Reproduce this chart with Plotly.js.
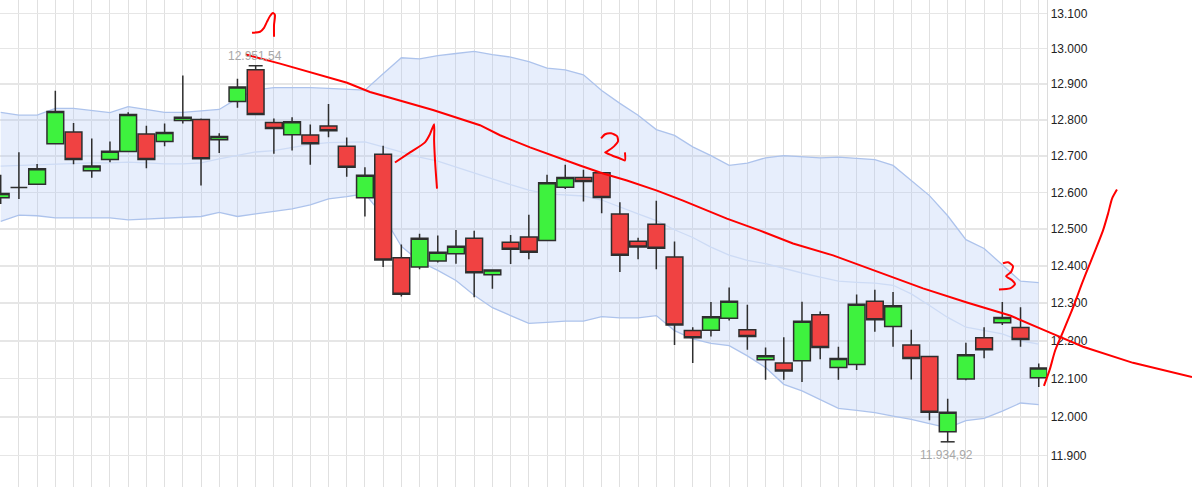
<!DOCTYPE html>
<html>
<head>
<meta charset="utf-8">
<script src="https://cdn.plot.ly/plotly-3.0.1.min.js"></script>
<style>
  html, body { margin: 0; padding: 0; background: #ffffff; }
  #chart { width: 1192px; height: 487px; }
</style>
</head>
<body>
<div id="chart"></div>
<script>
// ---- candle positions (one per trading session) ----
const sessions = [0,1,2,3,4,5,6,7,8,9,10,11,12,13,14,15,16,17,18,19,20,21,22,23,24,25,26,27,28,29,
                  30,31,32,33,34,35,36,37,38,39,40,41,42,43,44,45,46,47,48,49,50,51,52,53,54,55,56,57];

// ---- OHLC values ----
const openVals  = [12585,12613,12622,12734,12766,12659,12690,12712,12761,12740,
                   12798,12801,12745,12851,12940,12793,12759,12758,12783,12727,
                   12585,12705,12422,12397,12413,12433,12475,12376,12464,12478,
                   12469,12614,12641,12654,12541,12467,12513,12424,12227,12228,
                   12260,12229,12150,12141,12147,12269,12129,12137,12305,12238,
                   12189,12158,11961,12099,12208,12248,12235,12102];
const highVals  = [12648,12710,12678,12881,12791,12748,12740,12821,12784,12790,
                   12924,12804,12763,12915,12951.54,12804,12807,12787,12844,12751,
                   12669,12728,12458,12487,12482,12497,12495,12390,12484,12539,
                   12648,12676,12662,12655,12573,12476,12577,12466,12236,12303,
                   12342,12296,12182,12209,12304,12278,12184,12323,12336,12330,
                   12229,12159,12047,12195,12236,12303,12289,12140];
const lowVals   = [12568,12582,12620,12733,12677,12640,12683,12710,12666,12727,
                   12790,12619,12708,12834,12813,12706,12715,12676,12752,12643,
                   12534,12397,12318,12391,12409,12406,12316,12339,12405,12418,
                   12467,12609,12575,12543,12384,12418,12391,12189,12141,12211,
                   12254,12176,12097,12097,12091,12151,12097,12123,12224,12184,
                   12098,11991,11934.92,12096,12154,12242,12184,12078];
const closeVals = [12597,12613,12665,12823,12690,12672,12713,12815,12690,12765,
                   12807,12692,12754,12892,12815,12776,12795,12734,12770,12669,
                   12647,12416,12324,12475,12437,12453,12382,12389,12445,12437,
                   12626,12641,12630,12586,12429,12451,12448,12242,12208,12264,
                   12305,12211,12160,12120,12252,12182,12153,12297,12256,12293,
                   12153,12012,12012,12163,12176,12262,12203,12128];

// ---- Bollinger bands ----
const bandUpper  = [12821,12813,12813,12832,12832,12827,12820,12837,12829,12821,
                    12821,12825,12829,12860,12884,12890,12891,12890,12888,12886,
                    12883,12929,12974,12971,12980,12986,12992,12983,12976,12963,
                    12945,12940,12926,12882,12846,12813,12773,12757,12725,12701,
                    12674,12680,12695,12701,12699,12695,12697,12693,12690,12674,
                    12632,12591,12536,12471,12447,12402,12359,12355];
const bandMiddle = [12672,12674,12677,12678,12680,12681,12681,12683,12681,12678,
                    12678,12681,12692,12701,12711,12715,12724,12732,12737,12739,
                    12739,12725,12711,12697,12686,12669,12653,12637,12621,12606,
                    12596,12594,12590,12579,12559,12541,12523,12498,12477,12451,
                    12429,12415,12406,12393,12381,12370,12359,12356,12354,12348,
                    12325,12294,12262,12236,12227,12218,12200,12191];
const bandLower  = [12521,12538,12536,12530,12530,12530,12530,12525,12527,12530,
                    12530,12534,12545,12534,12541,12548,12555,12566,12582,12588,
                    12596,12536,12453,12412,12388,12361,12321,12288,12267,12246,
                    12249,12252,12252,12264,12261,12261,12267,12227,12205,12193,
                    12187,12160,12129,12085,12068,12046,12022,12017,12011,12002,
                    11993,11982,11971,11990,11996,12015,12036,12032];

// ---- labelled extremes ----
const extremeX = [14, 52];
const extremeY = [12951.54, 11934.92];
const extremeText = ['12.951,54', '11.934,92'];

// ---- price axis ticks ----
const tickValues = [11900,12000,12100,12200,12300,12400,12500,12600,12700,12800,12900,13000,13100];
const tickLabels = ['11.900','12.000','12.100','12.200','12.300','12.400','12.500','12.600','12.700','12.800','12.900','13.000','13.100'];

// ---- hand-drawn red marks (session position, price) ----
const trendX = [13.47,15.34,19.02,20.28,23.74,26.32,27.42,29.07,31.81,33.08,34.39,36.04,37.47,39.88,41.70,43.51,45.71,47.19,50.65,53.06,55.43,57.62,59.44,62.18,65.42];
const trendY = [12983,12957.5,12903.7,12878,12827.4,12785.2,12757.3,12723.7,12673.8,12651.7,12632.3,12604.7,12577.3,12528.1,12495.5,12460.7,12428.6,12401.9,12339.7,12301.9,12267,12221.4,12184.1,12141.6,12104.5];
const mark1aX = [13.80,14.24,14.46,14.62,14.79,14.95,15.06,15.01,15.01];
const mark1aY = [13044.8,13047.6,13058.8,13075.6,13092.4,13100.8,13095.2,13067.2,13033.6];
const mark1bX = [21.65,22.48,23.30,23.57,23.80,23.80,23.85,23.96];
const mark1bY = [12682,12709.8,12737.7,12760.1,12787.9,12743.3,12687.6,12610.2];
const mark2X  = [32.97,33.19,33.52,33.85,33.90,33.68,33.30,33.19,33.57,34.01,34.28,34.28];
const mark2Y  = [12748.9,12760.1,12762.8,12754.5,12740.5,12726.5,12712.6,12709.8,12701.4,12693.1,12687.6,12709.8];
const mark3X  = [55.04,55.32,55.59,55.48,55.21,55.54,55.70,55.43,54.82];
const mark3Y  = [12407.2,12409.9,12399.2,12383.2,12372.4,12361.6,12350.8,12339.7,12337];
const riseX   = [57.29,57.62,57.90,58.34,58.89,59.38,59.82,60.15,60.53,60.81,61.03,61.30];
const riseY   = [12080.8,12125.7,12173.5,12224.1,12288.6,12353.2,12407.2,12447.3,12495.5,12541.8,12582.8,12607.5];

// ---- geometry ----
const W = 1192, H = 487;
const plotRightPx = 1047.3;
const yRange = [4.072554, 4.118527];
const xRange = [-0.0384, 57.47];
const xRangeFull = [-0.0384, 65.42];
const logPerPx = (yRange[1] - yRange[0]) / H;

const bandLine = '#adc3ec';
const darkLine = '#2e2e2e';

const traces = [
  { type: 'scatter', mode: 'lines', x: sessions, y: bandLower,
    line: { color: bandLine, width: 1.3 }, hoverinfo: 'skip', showlegend: false },
  { type: 'scatter', mode: 'lines', x: sessions, y: bandUpper, fill: 'tonexty',
    fillcolor: 'rgba(176,200,245,0.3)',
    line: { color: bandLine, width: 1.3 }, hoverinfo: 'skip', showlegend: false },
  { type: 'scatter', mode: 'lines', x: sessions, y: bandMiddle,
    line: { color: '#cddbf5', width: 1.3 }, hoverinfo: 'skip', showlegend: false },
  { type: 'candlestick', x: sessions, open: openVals, high: highVals, low: lowVals, close: closeVals,
    xaxis: 'x3', yaxis: 'y3',
    increasing: { line: { color: darkLine, width: 1.5 }, fillcolor: '#3ef23e' },
    decreasing: { line: { color: darkLine, width: 1.5 }, fillcolor: '#f04242' },
    whiskerwidth: 0, hoverinfo: 'skip', showlegend: false },
  { type: 'scatter', mode: 'markers', x: extremeX, y: extremeY, xaxis: 'x3', yaxis: 'y3',
    marker: { symbol: 'line-ew', size: 10, line: { color: darkLine, width: 1.5 } },
    hoverinfo: 'skip', showlegend: false }
];

[[trendX, trendY, 'linear'], [mark1aX, mark1aY, 'spline'], [mark1bX, mark1bY, 'spline'],
 [mark2X, mark2Y, 'spline'], [mark3X, mark3Y, 'spline'], [riseX, riseY, 'spline']].forEach(function (s) {
  traces.push({ type: 'scatter', mode: 'lines', x: s[0], y: s[1], xaxis: 'x2', yaxis: 'y2',
    line: { color: '#ff0000', width: 2, shape: s[2], smoothing: 0.6 },
    hoverinfo: 'skip', showlegend: false });
});

// white plates behind the extreme labels (above grid, below data)
const shapes = extremeX.map(function (xv, k) {
  const base = Math.log10(extremeY[k]);
  const lo = k === 0 ? base + 2 * logPerPx : base - 18 * logPerPx;
  const hi = k === 0 ? base + 16 * logPerPx : base - 4 * logPerPx;
  return { type: 'rect', xref: 'x', yref: 'y', layer: 'below',
    x0: xv - 1.55, x1: xv + 1.45, y0: lo, y1: hi,
    fillcolor: '#ffffff', line: { width: 0 } };
});

const annotations = extremeX.map(function (xv, k) {
  return {
    x: xv, y: Math.log10(extremeY[k]), xref: 'x', yref: 'y',
    text: extremeText[k], showarrow: false,
    yanchor: k === 0 ? 'bottom' : 'top', yshift: k === 0 ? 2 : -5, xshift: -1,
    font: { family: 'Liberation Sans, Arial, sans-serif', size: 12, color: '#a8a8a8' },
    borderpad: 0
  };
});

const layout = {
  width: W, height: H,
  margin: { l: 0, r: 0, t: 0, b: 0, pad: 0 },
  paper_bgcolor: '#ffffff', plot_bgcolor: 'rgba(0,0,0,0)',
  font: { family: 'Liberation Sans, Arial, sans-serif', size: 12, color: '#222222' },
  showlegend: false,
  boxgap: 0.08, boxgroupgap: 0,
  xaxis: {
    domain: [0, plotRightPx / W], range: xRange, anchor: 'y',
    tickmode: 'linear', tick0: 0, dtick: 1,
    showticklabels: false, ticks: '',
    showgrid: true, gridcolor: '#e0e0e0', gridwidth: 1,
    zeroline: false, showline: false,
    rangeslider: { visible: false }, fixedrange: true
  },
  yaxis: {
    domain: [0, 1], type: 'log', range: yRange, side: 'right', anchor: 'x',
    tickmode: 'array', tickvals: tickValues, ticktext: tickLabels,
    ticks: '', ticklabelstandoff: 0,
    tickfont: { family: 'Liberation Sans, Arial, sans-serif', size: 12, color: '#222222' },
    showgrid: true, gridcolor: '#e6e6e6', gridwidth: 1.5,
    showline: true, linecolor: '#dcdcdc', linewidth: 1,
    zeroline: false, fixedrange: true
  },
  xaxis3: { overlaying: 'x', range: xRange, anchor: 'y3', visible: false,
    rangeslider: { visible: false }, fixedrange: true },
  yaxis3: { overlaying: 'y', type: 'log', range: yRange, anchor: 'x3', visible: false, fixedrange: true },
  xaxis2: { domain: [0, 1], range: xRangeFull, anchor: 'y2', visible: false, fixedrange: true },
  yaxis2: { domain: [0, 1], type: 'log', range: yRange, anchor: 'x2', visible: false, fixedrange: true },
  shapes: shapes,
  annotations: annotations
};

Plotly.newPlot('chart', traces, layout, { displayModeBar: false, staticPlot: true });
</script>
</body>
</html>
